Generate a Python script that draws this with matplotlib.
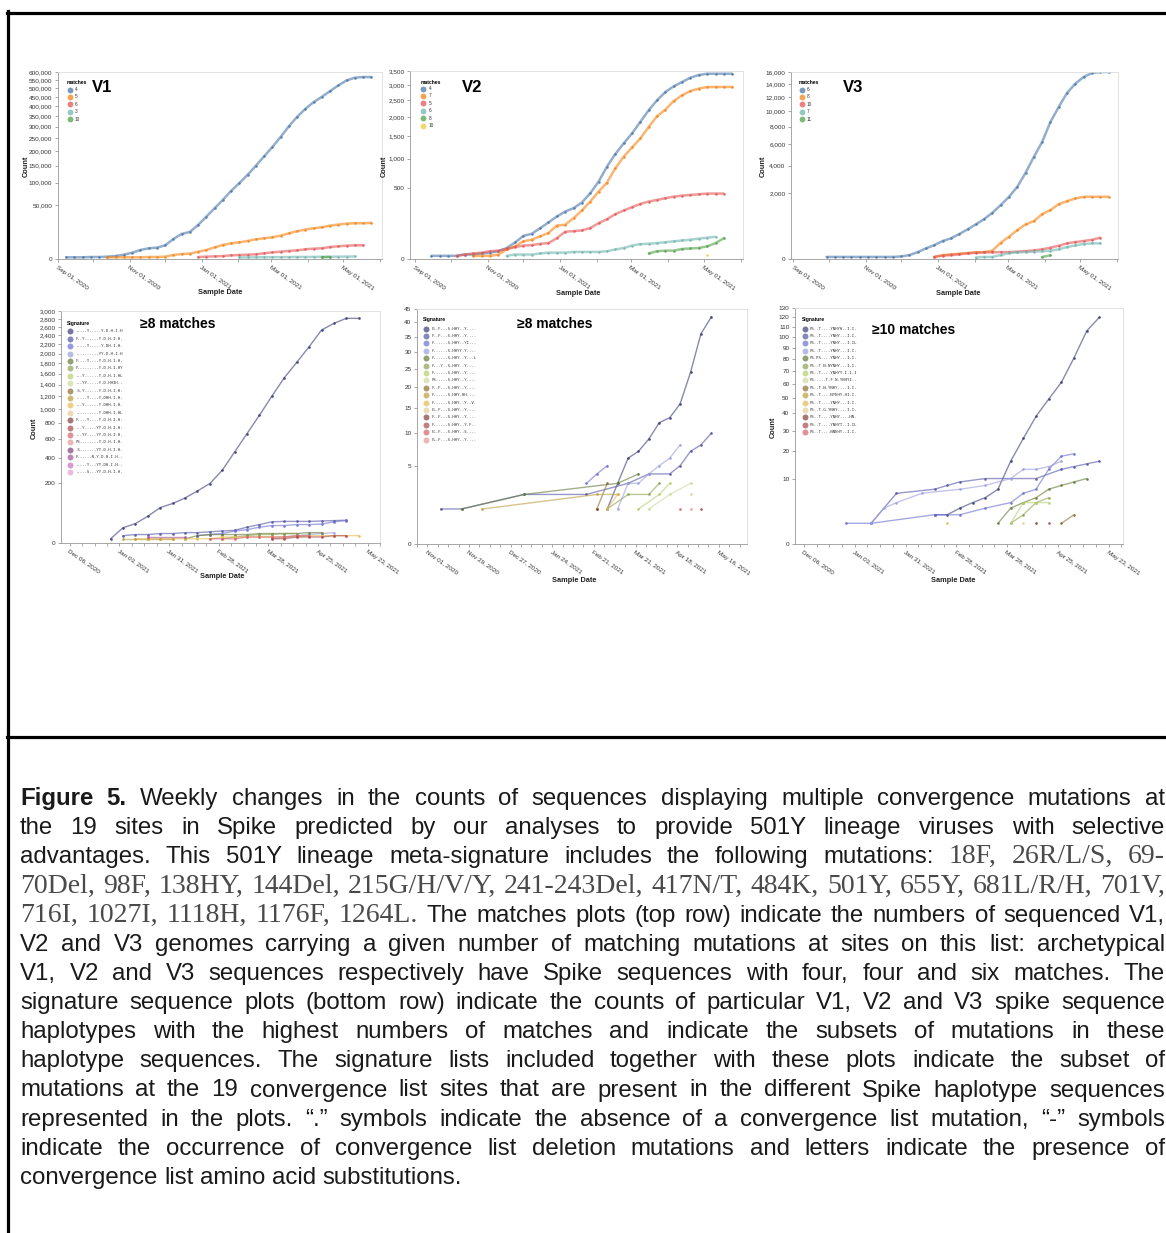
import numpy as np
import pandas as pd
import matplotlib
matplotlib.use("Agg")
import matplotlib.pyplot as plt
import matplotlib.dates as mdates
from matplotlib.ticker import FuncFormatter, FixedLocator
from matplotlib.lines import Line2D

W, H = 1166, 1233
plt.rcParams['font.family'] = ['Liberation Sans', 'DejaVu Sans']

# weekly grid used by every series (week index -> date)
WEEK0 = "2020-09-08"

TAB10 = ["#4c78a8", "#f58518", "#e45756", "#72b7b2", "#54a24b", "#eeca3b"]
CAT20B = ["#393b79", "#5254a3", "#6b6ecf", "#9c9ede", "#637939", "#8ca252",
          "#b5cf6b", "#cedb9c", "#8c6d31", "#bd9e39", "#e7ba52", "#e7cb94",
          "#843c39", "#ad494a", "#d6616b", "#e7969c", "#7b4173", "#a55194",
          "#ce6dbd", "#de9ed6"]

# ---------------- top row: counts per number of matches ----------------
V1_LABELS = ["4", "5", "6", "3", "10"]
V1_START = [0, 5, 16, 21, 31]
V1_VALUES = [
    [50, 50, 50, 70, 70, 95, 155, 325, 690, 1400, 1970, 2220, 3230, 6910, 10800,
     12600, 19980, 30970, 44370, 60160, 79910, 98950, 121940, 149470, 180970,
     215490, 255810, 302640, 346830, 387110, 422360, 451670, 483890, 517220,
     547550, 564080, 568250, 568250],
    [50, 50, 50, 50, 50, 70, 70, 95, 280, 430, 490, 930, 1400, 2350, 3390, 4240,
     4800, 5600, 6680, 7380, 8110, 9410, 11380, 13230, 14870, 16250, 17330,
     19200, 20370, 21580, 21980, 21980, 22400],
    [70, 95, 120, 155, 230, 280, 325, 380, 560, 770, 930, 1110, 1300, 1620, 1850,
     1970, 2490, 2770, 3070, 3230, 3230],
    [40, 45, 50, 55, 60, 60, 65, 70, 75, 80, 85, 90, 95, 100, 110],
    [50, 70],
]

V2_LABELS = ["4", "7", "5", "6", "8", "10"]
V2_START = [1, 6, 4, 10, 27, 34]
V2_VALUES = [
    [1, 1, 1, 1, 2, 2, 3, 4, 6, 12, 27, 53, 63, 94, 132, 179, 223, 256, 316, 428,
     593, 844, 1091, 1323, 1561, 1863, 2193, 2496, 2764, 2954, 3103, 3257, 3353,
     3400, 3400, 3400, 3400],
    [1, 1, 1, 2, 9, 16, 31, 37, 51, 67, 111, 116, 165, 233, 327, 450, 578, 814,
     1036, 1233, 1440, 1730, 2020, 2212, 2475, 2655, 2797, 2875, 2931, 2931,
     2931, 2931],
    [1, 2, 3, 4, 6, 7, 10, 14, 18, 19, 23, 25, 43, 74, 77, 81, 95, 127, 157, 199,
     233, 266, 301, 327, 346, 366, 386, 398, 407, 415, 424, 424, 424],
    [1, 2, 2, 2, 3, 4, 4, 4, 5, 5, 5, 5, 6, 9, 12, 18, 22, 23, 25, 28, 31, 34, 37,
     41, 45, 49],
    [3, 6, 7, 7, 10, 11, 12, 16, 25, 43],
    [2],
]

V3_LABELS = ["6", "8", "10", "7", "11"]
V3_START = [3, 16, 16, 21, 29]
V3_VALUES = [
    [2, 2, 2, 2, 2, 2, 2, 2, 2, 3, 7, 22, 52, 89, 148, 195, 285, 401, 548, 730,
     979, 1330, 1772, 2386, 3399, 4776, 6278, 8601, 10583, 12618, 14073, 15161,
     15834, 16000, 16000],
    [2, 7, 10, 13, 16, 20, 22, 32, 122, 227, 383, 548, 659, 923, 1095, 1380, 1534,
     1678, 1772, 1772, 1772, 1772],
    [2, 5, 7, 10, 15, 18, 20, 20, 22, 22, 25, 29, 34, 43, 59, 81, 112, 132, 148,
     170, 208],
    [1, 2, 2, 7, 16, 20, 22, 25, 27, 32, 43, 66, 85, 103, 112, 112],
    [2, 6],
]

# ---------------- bottom row: counts per signature haplotype ----------------
BL_SIGS = ["..-.-Y.....Y.D.H.I.H", "F.-Y-.....Y.D.H.I.H.", "..-.-Y.....Y.DH.I.H.",
           "..-.-.....YY.D.H.I.H", "F.-.-Y....Y.D.H.I.H.", "F.-.-.....Y.D.H.I.HY",
           "..-Y-.....Y.D.H.I.HL", "..-YY-....Y.D.HHIH..", ".S-Y-.....Y.D.H.I.H.",
           "..-.-Y....Y.DHH.I.H.", "..-Y-.....Y.DHH.I.H.", "..-.-.....Y.DHH.I.HL",
           "F.-.-Y....Y.D.H.I.H.", "..-Y-....YY.D.H.I.H.", "..-YY-...YY.D.H.I.H.",
           "FS-.-.....Y.D.H.I.H.", ".S-.-....YY.D.H.I.H.", "F.-.-..N.Y.D.H.I.H..",
           "..-.-Y...YY.DH.I.H..", "..-.-S...YY.D.H.I.H."]
BL_COLOR = [0, 1, 2, 3, 4, 5, 10, 9, 14, 13, 17]
BL_WEEKS = [list(range(16, 37)), list(range(17, 36)), list(range(23, 36)),
            list(range(29, 35)), list(range(22, 34)), list(range(25, 32)),
            list(range(18, 37)), list(range(17, 22)), list(range(24, 33)),
            list(range(29, 36)), [19, 22]]
BL_VALUES = [
    [1, 13, 21, 40, 70, 87, 113, 151, 197, 295, 463, 668, 911, 1202, 1522, 1818,
     2147, 2528, 2689, 2813, 2813],
    [3, 4, 4, 5, 5, 6, 6, 7, 8, 9, 14, 19, 25, 26, 26, 26, 27, 28, 29],
    [3, 4, 5, 8, 10, 14, 17, 17, 19, 19, 20, 25, 28],
    [1, 2, 3, 4, 5, 6],
    [1, 3, 4, 4, 4, 4, 5, 5, 5, 5, 6, 6],
    [1, 2, 3, 4, 4, 5, 5],
    [1, 1, 1, 1, 1, 1, 1, 2, 2, 2, 2, 2, 2, 2, 3, 3, 3, 3, 3],
    [1, 1, 1, 1, 1],
    [1, 1, 1, 2, 2, 2, 2, 3, 3],
    [1, 1, 2, 2, 2, 3, 3],
    [2, 2],
]

BM_SIGS = ["FL.F..-S-HHY..Y....", "F..F..-S-HHY..Y....", "F.....-S-HHY..YI...",
           "F.....-S-HHYY.Y....", "F.....-S-HHY..Y...L", "F...Y.-S-HHY..Y....",
           "F.....-S-HHY..Y....", "FS....-S-HHY..Y....", "F..F..-S-HHY..Y....",
           "F.....-S-HHY.HH....", "F.....-S-HHY..Y..V.", "FL.F..-S-HHY..Y....",
           "F..F..-S-HHY..Y....", "F.....-S-HHY..Y.F..", "FL.F..-S-HHY..S....",
           "FL.F..-S-HHY..Y...."]
BM_COLOR = [0, 1, 2, 3, 4, 5, 6, 7, 8, 9, 10, 11, 12, 14, 15, 13]
BM_WEEKS = [list(range(25, 36)), [9, 11, 17, 23, 27, 29, 31, 32, 33, 34, 35],
            [23, 24, 25], list(range(26, 33)), [11, 17, 26, 28], [25, 27, 29, 30],
            [28, 30, 31], [29, 31, 33], [24, 25], [13, 24, 26], [25, 26], [33],
            [24], [32], [33], [34]]
BM_VALUES = [[1, 3, 6, 7, 9, 12, 13, 16, 24, 36, 42],
             [1, 1, 2, 2, 3, 4, 4, 5, 7, 8, 10],
             [3, 4, 5], [1, 3, 3, 4, 5, 6, 8], [1, 2, 3, 4], [1, 2, 2, 3],
             [1, 2, 3], [1, 2, 3], [1, 3], [1, 2, 2], [1, 2], [2],
             [1], [1], [1], [1]]

BR_SIGS = ["FS..T....YNHYH..I.I.", "FS..T....YNHY...I.I.", "FS..T....YNHY...I.IL",
           "FS..T....YNHY...I.I.", "FS.PS....YNHY...I.I.", "FS..T.N.NYNHY...I.I.",
           "FS..T....YNHYY.I.I.I", "FS..-..T.F.N.YNHYI..", "FS..T.N.YNHY....I.I.",
           "FS..T....NYNHY.HI.I.", "FS..T...-YNHY...I.I.", "FS..T.G.YNHY....I.I.",
           "FS..T....YNHY....HN.", "FS..T....YNHYT..I.IL", "FS..T....NNNHY..I.I."]
BR_COLOR = [0, 1, 2, 3, 4, 5, 6, 10, 11, 12, 13, 8]
BR_WEEKS = [list(range(23, 37)), [18, 20, 23, 24, 25, 27, 31, 33, 34, 35, 36],
            [16, 18, 23, 25, 27, 29, 30, 31, 32, 33, 34],
            [18, 19, 20, 22, 25, 27, 29, 30, 31, 32, 33],
            list(range(28, 36)), list(range(29, 33)), list(range(29, 33)),
            [24], [30], [31], [32], [33, 34]]
BR_VALUES = [[2, 2, 3, 4, 5, 7, 16, 26, 38, 49, 61, 81, 106, 120],
             [1, 6, 7, 8, 9, 10, 10, 13, 14, 15, 16],
             [1, 1, 2, 2, 3, 4, 6, 7, 13, 18, 19],
             [1, 3, 4, 6, 7, 8, 10, 13, 13, 14, 16],
             [1, 3, 4, 5, 7, 8, 9, 10], [1, 2, 4, 5], [1, 4, 4, 4],
             [1], [1], [1], [1], [1, 2]]

CAPTION = [
    [("b", "Figure 5."), ("r", "Weekly changes in the counts of sequences displaying multiple convergence mutations at")],
    [("r", "the 19 sites in Spike predicted by our analyses to provide 501Y lineage viruses with selective")],
    [("r", "advantages. This 501Y lineage meta-signature includes the following mutations:"), ("s", "18F, 26R/L/S, 69-")],
    [("s", "70Del, 98F, 138HY, 144Del, 215G/H/V/Y, 241-243Del, 417N/T, 484K, 501Y, 655Y, 681L/R/H, 701V,")],
    [("s", "716I, 1027I, 1118H, 1176F, 1264L."), ("r", "The matches plots (top row) indicate the numbers of sequenced V1,")],
    [("r", "V2 and V3 genomes carrying a given number of matching mutations at sites on this list: archetypical")],
    [("r", "V1, V2 and V3 sequences respectively have Spike sequences with four, four and six matches. The")],
    [("r", "signature sequence plots (bottom row) indicate the counts of particular V1, V2 and V3 spike sequence")],
    [("r", "haplotypes with the highest numbers of matches and indicate the subsets of mutations in these")],
    [("r", "haplotype sequences. The signature lists included together with these plots indicate the subset of")],
    [("r", "mutations at the 19 convergence list sites that are present in the different Spike haplotype sequences")],
    [("r", "represented in the plots. \u201c.\u201d symbols indicate the absence of a convergence list mutation, \u201c-\u201d symbols")],
    [("r", "indicate the occurrence of convergence list deletion mutations and letters indicate the presence of")],
    [("r", "convergence list amino acid substitutions.")],
]

fig = plt.figure(figsize=(W / 100, H / 100), dpi=100)


def week_dates(weeks):
    return pd.Timestamp(WEEK0) + pd.to_timedelta(7 * np.asarray(weeks), unit="D")


def ftext(x, y, s, **kw):
    return fig.text(x / W, 1 - y / H, s, **kw)


def dot(x, y, color, size=4.2, alpha=0.75):
    fig.add_artist(Line2D([x / W], [1 - y / H], marker="o", ms=size, mew=0,
                          color=color, alpha=alpha, transform=fig.transFigure))


def px_axes(l, t, r, b):
    return fig.add_axes([l / W, 1 - b / H, (r - l) / W, (b - t) / H])


def sqrt_fwd(v):
    return np.sqrt(np.maximum(v, 0))


def sqrt_inv(v):
    return np.asarray(v) ** 2


def style(ax, ymax, ystep, xlim, major, minor):
    ax.set_yscale("function", functions=(sqrt_fwd, sqrt_inv))
    ax.set_ylim(0, ymax)
    ax.yaxis.set_major_locator(FixedLocator(np.arange(0, ymax + 1, ystep)))
    ax.yaxis.set_major_formatter(FuncFormatter(lambda v, _: f"{int(round(v)):,}"))
    ax.yaxis.set_minor_locator(FixedLocator([]))
    ax.set_xlim(pd.Timestamp(xlim[0]), pd.Timestamp(xlim[1]))
    ax.xaxis.set_major_locator(FixedLocator(mdates.date2num(major)))
    ax.xaxis.set_minor_locator(FixedLocator(mdates.date2num(minor)))
    ax.xaxis.set_major_formatter(mdates.DateFormatter("%b %d, %Y"))
    for s in ax.spines.values():
        s.set_color("#dddddd")
        s.set_linewidth(0.6)
    ax.spines["left"].set_color("#999999")
    ax.spines["bottom"].set_color("#999999")
    ax.tick_params(which="both", length=2.5, width=0.6, color="#999999",
                   labelsize=4.6, labelcolor="#333333", pad=1.5)
    for lab in ax.get_xticklabels():
        lab.set_rotation(-35)
        lab.set_ha("left")
        lab.set_va("top")
        lab.set_rotation_mode("anchor")


def top_panel(box, labels, starts, values, ymax, ystep, xlim, name, leg):
    ax = px_axes(*box)
    for i, (st, vals) in enumerate(zip(starts, values)):
        d = week_dates(np.arange(st, st + len(vals)))
        ax.plot(d, vals, "-", color=TAB10[i], lw=1.8, alpha=0.6, solid_capstyle="round")
        ax.plot(d, vals, "o", color=TAB10[i], ms=1.8, mew=0, alpha=0.9)
    major = pd.date_range("2020-09-01", "2021-06-30", freq="2MS")
    minor = pd.date_range("2020-08-01", "2021-06-30", freq="MS")
    style(ax, ymax, ystep, xlim, major, minor)
    # legend
    lx, ly = leg
    ftext(lx, ly, "matches", fontsize=3.6, fontweight="bold", va="center")
    for i, lab in enumerate(labels):
        y = ly + 6.5 + 7.4 * i
        dot(lx + 2.5, y, TAB10[i])
        ftext(lx + 8, y, lab, fontsize=3.4, va="center", color="#333333")
    ftext(box[0] + 34 if name == "V1" else box[0] + 52, 88, name,
          fontsize=12, fontweight="bold", va="center")
    return ax


def bottom_panel(box, colors, weeks, values, sigs, ymax, ystep, xlim, major, title, leg):
    ax = px_axes(*box)
    for ci, wk, vals in zip(colors, weeks, values):
        d = week_dates(wk)
        ax.plot(d, vals, "-", color=CAT20B[ci], lw=1.0, alpha=0.6)
        ax.plot(d, vals, "o", color=CAT20B[ci], ms=1.9, mew=0, alpha=0.9)
    minor = pd.date_range(pd.Timestamp(major[0]) - pd.Timedelta(days=35),
                          xlim[1], freq="7D")
    style(ax, ymax, ystep, xlim, major, minor)
    lx, ly = leg
    ftext(lx, ly, "Signature", fontsize=3.6, fontweight="bold", va="center")
    for i, s in enumerate(sigs):
        y = ly + 8.5 + 7.4 * i
        dot(lx + 2.8, y, CAT20B[i], size=4.3, alpha=0.7)
        ftext(lx + 8, y, s, fontsize=2.9, va="center", color="#333333",
              family="DejaVu Sans Mono")
    ftext(*title[1], title[0], fontsize=10, fontweight="bold", va="center")
    return ax


top_panel((58, 72, 382, 259), V1_LABELS, V1_START, V1_VALUES, 600000, 50000,
          ("2020-09-01", "2021-06-03"), "V1", (67, 83))
top_panel((410, 71, 743, 259), V2_LABELS, V2_START, V2_VALUES, 3500, 500,
          ("2020-08-28", "2021-06-03"), "V2", (421, 82))
top_panel((791, 72, 1118, 259), V3_LABELS, V3_START, V3_VALUES, 16000, 2000,
          ("2020-08-30", "2021-06-02"), "V3", (799, 83))

bottom_panel((61, 311, 380, 543), BL_COLOR, BL_WEEKS, BL_VALUES, BL_SIGS, 3000, 200,
             ("2020-12-01", "2021-05-30"), pd.date_range("2020-12-06", periods=7, freq="28D"),
             ("\u22658 matches", (140, 324)), (67, 323))
bottom_panel((417, 309, 747, 544), BM_COLOR, BM_WEEKS, BM_VALUES, BM_SIGS, 45, 5,
             ("2020-10-25", "2021-06-04"), pd.date_range("2020-11-01", periods=8, freq="28D"),
             ("\u22658 matches", (517, 324)), (423, 320))
bottom_panel((795, 308, 1123, 544), BR_COLOR, BR_WEEKS, BR_VALUES, BR_SIGS, 130, 10,
             ("2020-12-01", "2021-05-31"), pd.date_range("2020-12-06", periods=7, freq="28D"),
             ("\u226510 matches", (872, 330)), (802, 320))

# axis titles
lab_kw = dict(fontsize=5.3, fontweight="bold", ha="center", va="center", color="#222222")
for x, y in [(26, 166), (384, 166), (763, 166), (34, 428), (773, 427)]:
    ftext(x, y, "Count", rotation=90, **lab_kw)
for x, y in [(220, 292), (578, 294), (958, 294), (222, 577), (574, 580), (953, 580)]:
    ftext(x, y, "Sample Date", **lab_kw)

# frame around the figure and caption
for xs, ys in [([7, W], [12.5, 12.5]), ([7.5, 7.5], [11, H]), ([7, W], [737, 737])]:
    fig.add_artist(Line2D([x / W for x in xs], [1 - y / H for y in ys],
                          color="black", lw=2.3, transform=fig.transFigure))

# justified caption
CAP_FS = 17.3
CAP_STYLE = {
    "b": dict(fontsize=CAP_FS, fontweight="bold", color="#1a1a1a"),
    "r": dict(fontsize=CAP_FS, color="#1a1a1a"),
    "s": dict(fontsize=20, family="Liberation Serif", color="#4a4a4a"),
}
CAP_L, CAP_R, CAP_Y0, CAP_DY = 20, 1165, 805, 29.15
renderer = fig.canvas.get_renderer()
for i, segs in enumerate(CAPTION):
    y = CAP_Y0 + i * CAP_DY
    words = [(w, st) for st, txt in segs for w in txt.split()]
    arts = [ftext(0, y, w, va="baseline", ha="left", **CAP_STYLE[st]) for w, st in words]
    widths = [a.get_window_extent(renderer).width for a in arts]
    if i < len(CAPTION) - 1:
        gap = max((CAP_R - CAP_L - sum(widths)) / (len(words) - 1), 3.0)
    else:
        gap = 0.278 * CAP_FS * 100 / 72
    x = CAP_L
    for a, wd in zip(arts, widths):
        a.set_x(x / W)
        x += wd + gap

fig.savefig("out.png", dpi=100)
